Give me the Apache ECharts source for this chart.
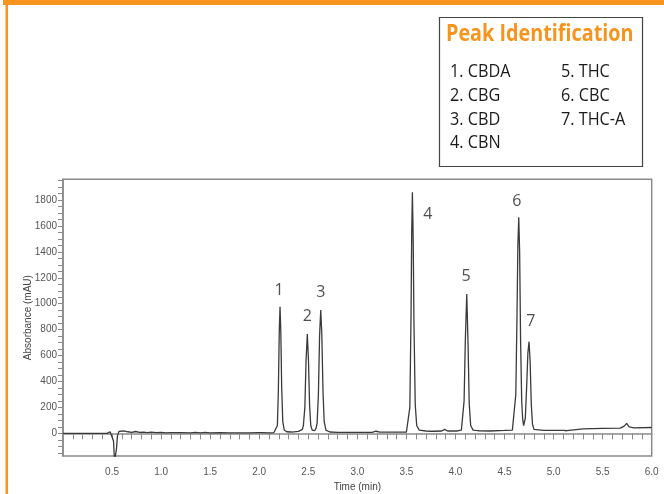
<!DOCTYPE html>
<html>
<head>
<meta charset="utf-8">
<style>html,body{margin:0;padding:0;background:#fff;}#c{width:664px;height:494px;}</style>
<script src="https://cdn.jsdelivr.net/npm/echarts@6/dist/echarts.min.js"></script>
</head>
<body>
<div id="c"></div>
<script>
// Chromatogram trace (time in min, absorbance in mAU)
const times = [
  0, 0.45, 0.48, 0.50, 0.515, 0.525, 0.535, 0.545, 0.555, 0.57, 0.59, 0.62,
  0.66, 0.70, 0.74, 0.78, 0.82, 0.86, 0.90, 0.95, 1.0, 1.05, 1.1, 1.2, 1.3, 1.35, 1.4, 1.45, 1.5, 1.6, 1.7, 1.8, 1.9, 1.98, 2.0, 2.03, 2.1, 2.15,
  2.17, 2.185, 2.195, 2.204, 2.212, 2.22, 2.229, 2.24, 2.255, 2.28, 2.33, 2.40, 2.44,
  2.45, 2.465, 2.477, 2.49, 2.502, 2.513, 2.525, 2.54, 2.565, 2.58,
  2.59, 2.603, 2.615, 2.627, 2.638, 2.65, 2.662, 2.68, 2.72, 2.8, 3.0, 3.15, 3.19, 3.23, 3.4, 3.5,
  3.52, 3.535, 3.547, 3.554, 3.561, 3.569, 3.577, 3.59, 3.605, 3.63, 3.7, 3.75, 3.765, 3.78, 3.86, 3.89, 3.92, 4.02, 4.06,
  4.075, 4.088, 4.1, 4.115, 4.128, 4.14, 4.155, 4.18, 4.21, 4.225, 4.24, 4.35, 4.5, 4.58,
  4.6, 4.615, 4.627, 4.636, 4.645, 4.654, 4.664, 4.675, 4.685, 4.695, 4.703,
  4.712, 4.725, 4.738, 4.75, 4.761, 4.773, 4.785, 4.80, 4.9, 5.0, 5.1, 5.12, 5.135, 5.15, 5.3, 5.5, 5.68, 5.72, 5.745, 5.77, 5.82, 6.0
];
const absorbance = [
  0, 0, 12, 0, -60, -220, -220, -120, -20, 15, 22, 18,
  12, 8, 14, 8, 10, 6, 9, 5, 7, 4, 6, 5, 3, 7, 3, 8, 4, 6, 3, 3, 3, 5, 12, 5, 4, 6,
  5, 60, 330, 780, 977, 780, 350, 90, 25, 12, 10, 15, 30,
  60, 200, 560, 766, 560, 220, 60, 25, 20, 40,
  80, 300, 750, 951, 760, 320, 90, 25, 10, 8, 8, 8, 16, 9, 9, 10,
  15, 200, 900, 1550, 1860, 1500, 850, 220, 60, 25, 18, 16, 25, 16, 18, 30, 18, 18, 25,
  40, 250, 700, 1075, 700, 230, 60, 25, 22, 35, 20, 18, 22, 25,
  35, 300, 900, 1450, 1667, 1400, 700, 250, 110, 60, 50,
  120, 350, 620, 707, 550, 220, 70, 30, 22, 22, 22, 35, 20, 28, 35, 38, 40, 55, 77, 50, 42, 45
];

// Peak number labels
const peakLabelTexts = ['1', '2', '3', '4', '5', '6', '7'];
const peakLabelTimes = [2.202, 2.49, 2.627, 3.718, 4.108, 4.625, 4.768];
const peakLabelValues = [1100, 900, 1085, 1690, 1208, 1787, 861];

// Peak identification legend
const peakNamesCol1 = ['1. CBDA', '2. CBG', '3. CBD', '4. CBN'];
const peakNamesCol2 = ['5. THC', '6. CBC', '7. THC-A'];

// Axis ticks and labels
const xLabelValues = [0.5, 1.0, 1.5, 2.0, 2.5, 3.0, 3.5, 4.0, 4.5, 5.0, 5.5, 6.0];
const xTickValues = [0.1,0.2,0.3,0.4,0.5,0.6,0.7,0.8,0.9,1.0,1.1,1.2,1.3,1.4,1.5,1.6,1.7,1.8,1.9,2.0,2.1,2.2,2.3,2.4,2.5,2.6,2.7,2.8,2.9,3.0,3.1,3.2,3.3,3.4,3.5,3.6,3.7,3.8,3.9,4.0,4.1,4.2,4.3,4.4,4.5,4.6,4.7,4.8,4.9,5.0,5.1,5.2,5.3,5.4,5.5,5.6,5.7,5.8,5.9,6.0];
const yLabelValues = [0, 200, 400, 600, 800, 1000, 1200, 1400, 1600, 1800];
const yTickValues = [-150,-100,-50,0,50,100,150,200,250,300,350,400,450,500,550,600,650,700,750,800,850,900,950,1000,1050,1100,1150,1200,1250,1300,1350,1400,1450,1500,1550,1600,1650,1700,1750,1800,1850,1900,1950];

const ORANGE = '#F7941D';
const trace = times.map((t, i) => [t, absorbance[i]]);
const labelPts = peakLabelTimes.map((t, i) => [t, peakLabelValues[i], peakLabelTexts[i]]);

const chart = echarts.init(document.getElementById('c'), null, {renderer: 'canvas'});

const boxGraphics = [
  {type: 'rect', shape: {x: 439.5, y: 17.5, width: 203, height: 149}, style: {fill: '#fff', stroke: '#444', lineWidth: 1.2}},
  {type: 'text', x: 446, y: 34, scaleX: 0.86, style: {text: 'Peak Identification', fill: ORANGE, font: 'bold 23px "Open Sans"', textVerticalAlign: 'middle'}}
];
peakNamesCol1.forEach((s, i) => boxGraphics.push({type: 'text', x: 450, y: 72 + i * 23.7, scaleX: 0.9, style: {text: s, fill: '#1a1a1a', font: '18px "Open Sans"', textVerticalAlign: 'middle'}}));
peakNamesCol2.forEach((s, i) => boxGraphics.push({type: 'text', x: 561, y: 72 + i * 23.7, scaleX: 0.9, style: {text: s, fill: '#1a1a1a', font: '18px "Open Sans"', textVerticalAlign: 'middle'}}));

chart.setOption({
  animation: false,
  backgroundColor: '#fff',
  grid: {left: 63, right: 12.3, top: 179.3, bottom: 38, outerBoundsMode: 'none', containLabel: false,
         show: true, borderColor: '#8a8a8a', borderWidth: 1.5, backgroundColor: 'transparent'},
  xAxis: {
    type: 'value', min: 0, max: 6,
    name: 'Time (min)', nameLocation: 'middle', nameGap: 26, nameMoveOverlap: false,
    nameTextStyle: {fontSize: 10, color: '#444', fontFamily: 'Liberation Sans'},
    axisLine: {show: true, lineStyle: {color: '#8a8a8a', width: 1.5}},
    axisTick: {show: true, length: 6, customValues: xTickValues, lineStyle: {color: '#8a8a8a'}},
    axisLabel: {customValues: xLabelValues, formatter: v => v.toFixed(1), fontSize: 10, color: '#555', fontFamily: 'Liberation Sans', margin: 11},
    splitLine: {show: false}
  },
  yAxis: {
    type: 'value', min: -175, max: 1960,
    name: 'Absorbance (mAU)', nameLocation: 'middle', nameGap: 30, nameMoveOverlap: false,
    nameTextStyle: {fontSize: 10, color: '#444', fontFamily: 'Liberation Sans'},
    axisLine: {show: true, lineStyle: {color: '#8a8a8a', width: 1.5}},
    axisTick: {show: true, length: 5, customValues: yTickValues, lineStyle: {color: '#8a8a8a'}},
    axisLabel: {customValues: yLabelValues, formatter: v => String(v), fontSize: 10, color: '#555', fontFamily: 'Liberation Sans', margin: 6},
    splitLine: {show: false}
  },
  series: [
    {type: 'line', data: trace, showSymbol: false, symbol: 'none', lineStyle: {color: '#3a3a3a', width: 1.3}, clip: true},
    {type: 'scatter', data: labelPts, symbolSize: 0, silent: true,
     label: {show: true, position: 'inside', formatter: p => p.data[2], fontSize: 16, color: '#222', fontFamily: 'Open Sans'}}
  ],
  graphic: [
    {type: 'rect', shape: {x: 3, y: 0, width: 661, height: 5}, style: {fill: ORANGE}},
    {type: 'rect', shape: {x: 5.5, y: 5, width: 2.5, height: 489}, style: {fill: ORANGE}}
  ].concat(boxGraphics)
});
</script>
</body>
</html>
